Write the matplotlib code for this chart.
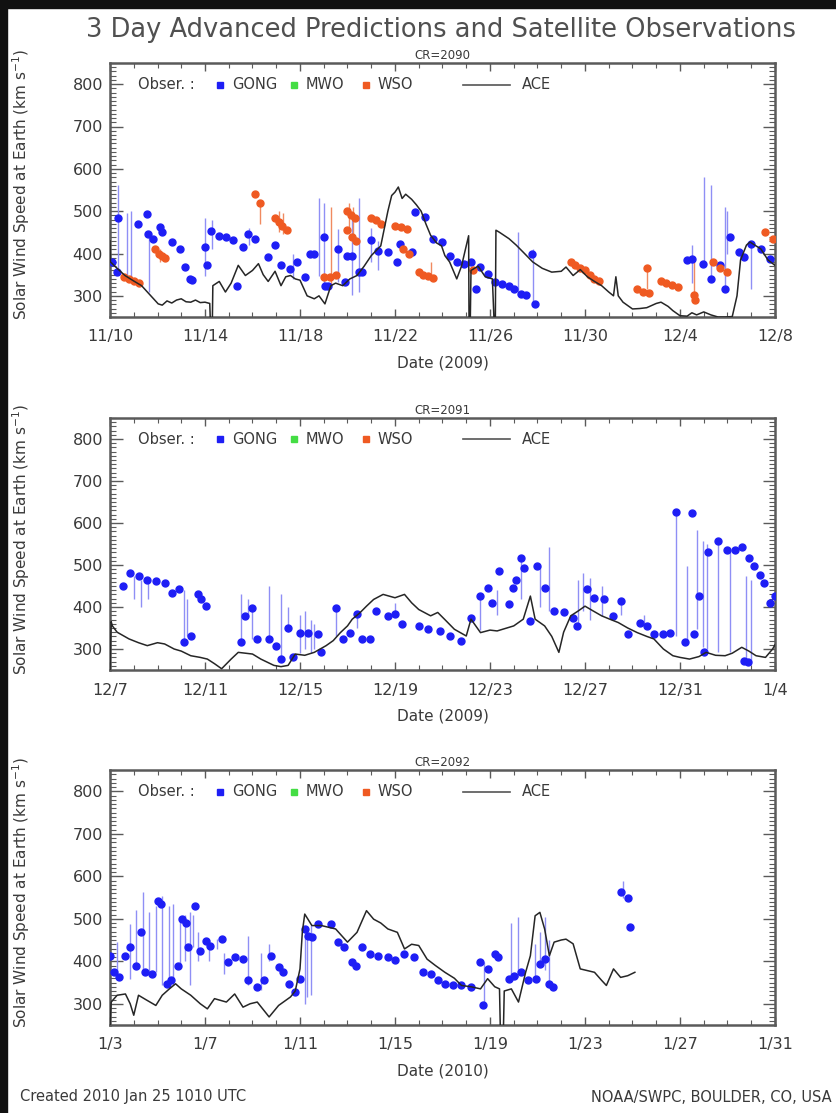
import matplotlib
matplotlib.use("Agg")
import matplotlib.pyplot as plt
from matplotlib.patches import Rectangle
import numpy as np

# ---------------- DATA ----------------
# Panel 1 : CR=2090, 2009-11-10 .. 2009-12-08 (days since start)
p1_ticklabels = ["11/10", "11/14", "11/18", "11/22", "11/26", "11/30", "12/4", "12/8"]
p1_xlabel = "Date (2009)"
p1_cr = "CR=2090"
p1_ace_day = [0.0, 0.02, 0.3, 0.63, 1.0, 1.33, 1.72, 2.03, 2.2, 2.4, 2.6, 2.8, 3.0, 3.2, 3.4, 3.6, 3.8, 4.0,
              4.2, 4.25, 4.3, 4.33, 4.6, 4.86, 5.1, 5.4, 5.7, 6.0, 6.25, 6.45, 6.66, 6.95, 7.2, 7.4, 7.6, 7.8,
              8.0, 8.3, 8.6, 8.8, 9.05, 9.3, 9.5, 9.8, 10.1, 10.4, 10.7, 11.0, 11.4, 11.7, 11.86, 12.0, 12.14,
              12.3, 12.45, 12.7, 12.9, 13.1, 13.3, 13.5, 13.75, 13.96, 14.1, 14.3, 14.6, 14.8, 14.97, 15.1,
              15.12, 15.16, 15.2, 15.5, 15.8, 16.1, 16.2, 16.22, 16.25, 16.4, 16.8, 17.1, 17.4, 17.8, 18.2,
              18.6, 19.0, 19.2, 19.5, 19.8, 20.1, 20.4, 20.7, 21.0, 21.2, 21.3, 21.4, 21.6, 22.0, 22.3, 22.6,
              23.0, 23.2, 23.5, 23.7, 24.0, 24.3, 24.5, 24.7, 25.0, 25.3, 25.6, 25.9, 26.2, 26.4, 26.55,
              26.8, 26.95, 27.2, 27.4, 27.7, 28.0]
p1_ace_speed = [430, 380, 365, 348, 335, 324, 300, 281, 278, 288, 283, 290, 293, 286, 285, 290, 284, 285,
                282, 200, 200, 324, 334, 309, 330, 372, 348, 360, 376, 350, 334, 358, 324, 345, 348, 340,
                337, 300, 293, 300, 281, 324, 330, 324, 340, 348, 370, 395, 418, 500, 537, 545, 557,
                530, 540, 528, 515, 500, 470, 443, 425, 418, 395, 380, 340, 370, 411, 442,
                200, 200, 360, 370, 345, 340, 200, 200, 455, 450, 435, 420, 403, 380, 365,
                356, 358, 368, 348, 362, 345, 334, 324, 309, 300, 345, 300, 285, 269, 270, 272,
                282, 285, 275, 265, 253, 252, 260, 255, 262, 255, 250, 250, 251, 300, 385,
                420, 427, 418, 411, 385, 372]
p1_gong_day = [0.07, 0.28, 0.35, 1.19, 1.54, 1.61, 1.8, 2.1, 2.17, 2.6, 2.95, 3.16, 3.37, 3.45, 4.0, 4.07,
               4.25, 4.6, 4.9, 5.2, 5.33, 5.6, 5.82, 6.1, 6.66, 6.95, 7.2, 7.6, 7.86, 8.2, 8.42, 8.6,
               9.0, 9.05, 9.2, 9.6, 9.9, 9.97, 10.2, 10.5, 10.6, 11.0, 11.3, 11.7, 12.1, 12.2, 12.7,
               12.84, 13.26, 13.6, 14.0, 14.3, 14.6, 14.9, 15.2, 15.4, 15.57, 15.9, 16.2, 16.5, 16.8,
               17.0, 17.3, 17.5, 17.75, 17.9, 24.3, 24.5, 24.98, 25.3, 25.7, 25.9, 26.1, 26.5, 26.7,
               27.0, 27.4, 27.8]
p1_gong_speed = [380, 357, 483, 470, 494, 446, 435, 463, 450, 427, 411, 368, 340, 338, 415, 372,
                 454, 442, 438, 431, 324, 415, 446, 435, 391, 419, 372, 364, 380, 344, 399, 399,
                 438, 324, 324, 411, 332, 395, 395, 356, 356, 431, 407, 403, 380, 423, 403,
                 497, 486, 435, 427, 395, 380, 376, 380, 317, 368, 352, 332, 328, 324,
                 317, 305, 301, 399, 281, 384, 387, 376, 340, 372, 317, 438, 403, 391,
                 423, 411, 387]
p1_gong_line_day = [0.35, 0.7, 0.9, 1.65, 4.0, 4.3, 5.85, 7.7, 8.8, 9.0, 9.6, 10.2, 10.5, 11.0, 11.3,
                    17.2, 17.8, 24.5, 25.0, 25.3, 25.9, 26.0, 27.0]
p1_gong_line_lo = [357, 340, 335, 310, 348, 411, 420, 340, 348, 330, 332, 301, 310, 380, 360,
                   301, 285, 330, 372, 340, 317, 400, 317]
p1_gong_line_hi = [561, 495, 500, 450, 483, 478, 460, 400, 530, 520, 458, 483, 530, 460, 430,
                   450, 411, 420, 580, 561, 510, 500, 423]
p1_wso_day = [0.6, 0.8, 1.0, 1.2, 1.9, 2.05, 2.2, 2.3, 6.1, 6.3, 6.95, 7.1, 7.25, 7.45, 9.0, 9.25, 9.5,
              9.97, 10.15, 10.3, 10.0, 10.2, 10.35, 11.0, 11.2, 11.4, 12.0, 12.25, 12.5, 12.35, 12.6,
              13.0, 13.2, 13.4, 13.6, 15.3, 19.4, 19.6, 19.8, 20.0, 20.2, 20.4, 20.6, 22.2, 22.45,
              22.7, 22.6, 23.2, 23.4, 23.65, 23.9, 24.6, 24.65, 25.4, 25.7, 26.0, 27.6, 27.9]
p1_wso_speed = [345, 340, 335, 330, 410, 400, 395, 390, 541, 519, 485, 475, 465, 455, 345, 345, 350,
                500, 490, 485, 455, 440, 430, 483, 478, 470, 466, 463, 457, 411, 400,
                357, 350, 346, 343, 360, 380, 372, 366, 360, 350, 340, 335, 315, 310,
                307, 365, 335, 330, 325, 320, 301, 290, 380, 365, 356, 450, 435]
p1_wso_line_day = [2.1, 6.3, 7.1, 7.3, 9.3, 10.05, 10.25, 13.5, 22.6, 24.6]
p1_wso_line_lo = [380, 470, 450, 445, 324, 455, 430, 340, 315, 300]
p1_wso_line_hi = [410, 519, 500, 495, 511, 520, 510, 380, 365, 385]

# Panel 2 : CR=2091, 2009-12-07 .. 2010-01-04
p2_ticklabels = ["12/7", "12/11", "12/15", "12/19", "12/23", "12/27", "12/31", "1/4"]
p2_xlabel = "Date (2009)"
p2_cr = "CR=2091"
p2_ace_day = [0.0, 0.05, 0.1, 0.3, 0.8, 1.2, 1.57, 2.0, 2.3, 2.7, 3.0, 3.4, 3.8, 4.1, 4.4, 4.7, 5.1, 5.4,
              5.7, 6.0, 6.35, 6.9, 7.2, 7.5, 7.8, 8.2, 8.6, 9.1, 9.4, 9.7, 10.0, 10.2, 10.5, 10.8, 11.1,
              11.5, 12.0, 12.4, 12.7, 13.0, 13.5, 13.8, 14.1, 14.5, 15.0, 15.2, 15.6, 16.0, 16.3, 17.0,
              17.4, 17.7, 17.9, 18.3, 18.6, 18.9, 19.1, 19.4, 19.7, 20.0, 20.3, 20.7, 21.0, 21.4, 21.8,
              22.2, 22.6, 22.9, 23.3, 23.7, 24.0, 24.4, 24.8, 25.1, 25.5, 25.9, 26.2, 26.6, 26.9, 27.2,
              27.6, 27.9, 28.0]
p2_ace_speed = [250, 365, 355, 340, 324, 315, 308, 315, 312, 300, 295, 284, 280, 276, 265, 253, 276, 292,
                290, 288, 276, 261, 258, 261, 288, 285, 292, 308, 320, 339, 355, 371, 385, 402, 418,
                430, 422, 430, 410, 394, 379, 387, 370, 347, 331, 371, 339, 345, 343, 355,
                371, 426, 371, 355, 330, 292, 340, 379, 390, 402, 392, 379, 372, 363, 350,
                339, 330, 324, 300, 284, 280, 276, 282, 292, 285, 284, 290, 304, 295, 284,
                280, 300, 310]
p2_gong_day = [0.55, 0.83, 1.2, 1.57, 1.95, 2.3, 2.6, 2.9, 3.1, 3.4, 3.7, 3.85, 4.05, 5.5, 5.7, 6.0, 6.2,
               6.7, 7.0, 7.2, 7.5, 7.7, 8.0, 8.35, 8.75, 8.9, 9.5, 9.8, 10.1, 10.4, 10.6, 10.95, 11.2,
               11.7, 12.0, 12.3, 13.0, 13.4, 13.9, 14.3, 14.8, 15.2, 15.6, 15.9, 16.1, 16.4, 16.8,
               16.95, 17.1, 17.3, 17.45, 17.7, 18.0, 18.3, 18.7, 19.1, 19.5, 19.65, 20.1, 20.4, 20.8,
               21.2, 21.5, 21.8, 22.3, 22.6, 22.9, 23.3, 23.6, 23.85, 24.2, 24.5, 24.6, 24.8, 25.0,
               25.2, 25.6, 25.97, 26.3, 26.6, 26.9, 27.1, 27.35, 27.55, 26.7, 26.85, 27.8, 28.0]
p2_gong_speed = [450, 481, 473, 465, 461, 457, 434, 442, 316, 331, 430, 418, 402, 316, 379, 398, 324,
                 324, 308, 276, 351, 280, 339, 339, 335, 292, 398, 324, 339, 383, 324, 324, 390,
                 379, 383, 359, 355, 347, 343, 331, 320, 375, 426, 446, 410, 485, 406,
                 446, 465, 517, 493, 367, 497, 446, 390, 387, 375, 355, 442, 422, 418,
                 379, 414, 335, 363, 355, 335, 335, 339, 627, 316, 623, 335, 426, 292,
                 532, 556, 536, 536, 544, 517, 497, 477, 457, 272, 268, 410, 426]
p2_gong_line_day = [1.0, 1.3, 1.6, 3.1, 3.25, 5.5, 5.8, 6.0, 6.7, 7.2, 7.5, 8.0, 8.2, 8.45, 8.6, 9.5,
                    10.4, 12.0, 15.6, 16.3, 17.3, 18.1, 18.5, 19.7, 19.9, 20.2, 20.7, 21.5, 22.5,
                    23.85, 24.3, 24.7, 24.95, 25.15, 25.6, 26.1, 26.8, 27.0]
p2_gong_line_lo = [420, 400, 420, 316, 331, 316, 379, 324, 324, 276, 340, 290, 300, 290, 300, 330,
                   350, 383, 345, 380, 420, 400, 390, 355, 390, 370, 379, 380, 355,
                   330, 316, 347, 304, 300, 292, 292, 272, 268]
p2_gong_line_hi = [473, 465, 461, 440, 420, 430, 420, 405, 450, 430, 400, 380, 390, 370, 360, 398,
                   383, 410, 426, 440, 517, 497, 544, 465, 480, 470, 450, 414, 380,
                   627, 497, 583, 556, 550, 556, 536, 473, 465]

# Panel 3 : CR=2092, 2010-01-03 .. 2010-01-31
p3_ticklabels = ["1/3", "1/7", "1/11", "1/15", "1/19", "1/23", "1/27", "1/31"]
p3_xlabel = "Date (2010)"
p3_cr = "CR=2092"
p3_ace_day = [0.0, 0.05, 0.3, 0.65, 0.85, 1.0, 1.2, 1.5, 1.93, 2.2, 2.5, 2.76, 3.0, 3.4, 3.8, 4.1, 4.4,
              4.9, 5.25, 5.6, 5.9, 6.2, 6.7, 7.1, 7.6, 7.8, 8.0, 8.1, 8.2, 8.5, 8.9, 9.2, 9.5, 10.0,
              10.4, 10.8, 11.1, 11.4, 11.7, 12.1, 12.4, 12.7, 13.0, 13.35, 13.7, 14.1, 14.5, 14.8,
              15.2, 15.6, 15.9, 16.2, 16.4, 16.45, 16.55, 16.6, 16.9, 17.2, 17.5, 17.7, 17.9, 18.1,
              18.3, 18.5, 18.7, 19.0, 19.2, 19.5, 19.8, 20.1, 20.4, 20.7, 20.9, 21.2, 21.5, 21.8, 22.1]
p3_ace_speed = [250, 304, 320, 323, 300, 273, 320, 310, 296, 320, 335, 347, 335, 320, 300, 288, 312,
                304, 323, 292, 300, 304, 269, 296, 316, 330, 382, 470, 511, 484, 484, 480, 476, 445,
                468, 519, 499, 490, 476, 468, 429, 440, 437, 405, 390, 374, 360, 343,
                340, 335, 359, 340, 335, 200, 200, 330, 335, 304, 374, 413, 507, 515,
                476, 413, 445, 450, 452, 441, 382, 378, 374, 355, 343, 382, 362, 366, 374]
p3_gong_day = [0.0, 0.18, 0.37, 0.65, 0.83, 1.1, 1.3, 1.47, 1.75, 2.0, 2.15, 2.4, 2.55, 2.85, 3.04,
               3.2, 3.3, 3.6, 3.8, 4.05, 4.2, 4.7, 4.97, 5.25, 5.6, 5.8, 6.2, 6.5, 6.8, 7.1, 7.3,
               7.55, 7.8, 8.0, 8.2, 8.35, 8.5, 8.75, 9.3, 9.6, 9.85, 10.2, 10.35, 10.6, 10.95, 11.3,
               11.7, 12.0, 12.4, 12.8, 13.2, 13.5, 13.8, 14.1, 14.45, 14.8, 15.2, 15.56, 15.7, 15.9,
               16.2, 16.35, 16.8, 17.0, 17.3, 17.6, 17.95, 18.1, 18.3, 18.5, 18.65, 21.5, 21.8, 21.9]
p3_gong_speed = [413, 374, 363, 413, 433, 390, 468, 374, 370, 542, 534, 347, 355, 390, 499,
                 491, 433, 530, 425, 448, 437, 452, 398, 409, 405, 355, 339, 355, 413, 386, 374,
                 347, 327, 359, 476, 460, 456, 488, 488, 445, 433, 398, 390, 433, 417, 413,
                 409, 402, 417, 409, 374, 370, 355, 347, 343, 343, 339, 398, 296, 382,
                 417, 409, 359, 366, 374, 355, 359, 394, 405, 347, 339, 562, 550, 480]
p3_gong_line_day = [0.28, 0.83, 1.1, 1.38, 1.65, 1.93, 2.2, 2.5, 2.67, 2.95, 3.15, 3.35, 3.5, 3.7,
                    4.15, 4.5, 4.8, 5.8, 6.35, 6.7, 8.2, 8.3, 8.45, 15.75, 16.9, 17.2, 17.9, 18.1,
                    18.3, 18.5, 21.6]
p3_gong_line_lo = [359, 359, 390, 374, 366, 374, 343, 343, 343, 390, 400, 343, 433, 400,
                   400, 430, 370, 343, 332, 400, 300, 316, 320, 296, 359, 362, 366, 394,
                   380, 339, 550]
p3_gong_line_hi = [445, 488, 520, 562, 515, 530, 554, 530, 534, 499, 510, 515, 510, 470,
                   450, 452, 420, 460, 420, 440, 476, 484, 486, 398, 491, 503, 440, 470,
                   503, 450, 590]

# ---------------- STYLE ----------------
GONG_C = "#1e1ef5"
GONG_LINE_C = "#8f8ff5"
WSO_C = "#ef5a22"
WSO_LINE_C = "#f08a60"
MWO_C = "#44dd44"
ACE_C = "#262626"
TXT_C = "#3a3a3a"
FRAME_C = "#5a5a5a"

plt.rcParams["font.family"] = ["DejaVu Sans"]

W, H = 836, 1113
fig = plt.figure(figsize=(W / 100, H / 100), dpi=100)
fig.patch.set_facecolor("white")

panels = [
    (63, 317, p1_ticklabels, p1_xlabel, p1_cr, p1_ace_day, p1_ace_speed, p1_gong_day, p1_gong_speed,
     p1_gong_line_day, p1_gong_line_lo, p1_gong_line_hi, p1_wso_day, p1_wso_speed,
     p1_wso_line_day, p1_wso_line_lo, p1_wso_line_hi),
    (418, 670, p2_ticklabels, p2_xlabel, p2_cr, p2_ace_day, p2_ace_speed, p2_gong_day, p2_gong_speed,
     p2_gong_line_day, p2_gong_line_lo, p2_gong_line_hi, [], [], [], [], []),
    (770, 1025, p3_ticklabels, p3_xlabel, p3_cr, p3_ace_day, p3_ace_speed, p3_gong_day, p3_gong_speed,
     p3_gong_line_day, p3_gong_line_lo, p3_gong_line_hi, [], [], [], [], []),
]

left_px, right_px = 110, 775
for (top, bot, tlabels, xlabel, cr, aced, aces, gd, gs, gld, gll, glh, wd, ws, wld, wll, wlh) in panels:
    ax = fig.add_axes([left_px / W, 1 - bot / H, (right_px - left_px) / W, (bot - top) / H])
    ax.set_xlim(0, 28)
    ax.set_ylim(250, 850)

    # vertical spread lines
    ax.vlines(gld, gll, glh, color=GONG_LINE_C, lw=1.0, zorder=2)
    if len(wld):
        ax.vlines(wld, wll, wlh, color=WSO_LINE_C, lw=1.0, zorder=2)
    # ACE observations
    ax.plot(aced, aces, color=ACE_C, lw=1.1, zorder=4)
    # predictions
    ax.plot(gd, gs, linestyle="none", marker="o", ms=5.0, mfc=GONG_C, mec=GONG_C, zorder=3)
    if len(wd):
        ax.plot(wd, ws, linestyle="none", marker="o", ms=5.0, mfc=WSO_C, mec=WSO_C, zorder=3)

    # ticks
    ax.set_xticks(np.arange(0, 29, 4))
    ax.set_xticklabels(tlabels)
    ax.set_xticks(np.arange(0, 29, 1), minor=True)
    ax.set_yticks(np.arange(300, 801, 100))
    ax.set_yticks(np.arange(250, 851, 10), minor=True)
    ax.tick_params(axis="both", which="both", direction="in", top=True, right=True,
                   color=FRAME_C, labelcolor=TXT_C)
    ax.tick_params(axis="y", which="major", length=9, width=1.0, labelsize=11.5, pad=5)
    ax.tick_params(axis="y", which="minor", length=4, width=0.8)
    ax.tick_params(axis="x", which="major", length=6, width=1.0, labelsize=11.5, pad=9)
    ax.tick_params(axis="x", which="minor", length=3.5, width=0.8)
    for s in ax.spines.values():
        s.set_color(FRAME_C)
        s.set_linewidth(1.8)

    ax.set_xlabel(xlabel, fontsize=11, color=TXT_C, labelpad=8)
    ax.set_ylabel("Solar Wind Speed at Earth (km s$^{-1}$)", fontsize=11, color=TXT_C)
    ax.yaxis.set_label_coords(-0.118, 0.52)
    ax.text(0.5, 1.005, cr, transform=ax.transAxes, ha="center", va="bottom", fontsize=8.5, color=TXT_C)

    # in-plot legend
    ly = 0.915
    ax.text(0.042, ly, "Obser. :", transform=ax.transAxes, va="center", ha="left", fontsize=10.5, color=TXT_C)
    ax.plot([0.166], [ly], transform=ax.transAxes, marker="s", ms=4, color=GONG_C, ls="none")
    ax.text(0.184, ly, "GONG", transform=ax.transAxes, va="center", ha="left", fontsize=10.5, color=TXT_C)
    ax.plot([0.276], [ly], transform=ax.transAxes, marker="s", ms=4, color=MWO_C, ls="none")
    ax.text(0.294, ly, "MWO", transform=ax.transAxes, va="center", ha="left", fontsize=10.5, color=TXT_C)
    ax.plot([0.385], [ly], transform=ax.transAxes, marker="s", ms=4, color=WSO_C, ls="none")
    ax.text(0.403, ly, "WSO", transform=ax.transAxes, va="center", ha="left", fontsize=10.5, color=TXT_C)
    ax.plot([0.531, 0.602], [ly, ly], transform=ax.transAxes, color="#555555", lw=1.2)
    ax.text(0.620, ly, "ACE", transform=ax.transAxes, va="center", ha="left", fontsize=10.5, color=TXT_C)

fig.text(441 / W, 1 - 30 / H, "3 Day Advanced Predictions and Satellite Observations",
         ha="center", va="center", fontsize=18.5, color="#505050")
fig.text(20 / W, 1 - 1097 / H, "Created 2010 Jan 25 1010 UTC", ha="left", va="center",
         fontsize=10.5, color=TXT_C)
fig.text(832 / W, 1 - 1097 / H, "NOAA/SWPC, BOULDER, CO, USA", ha="right", va="center",
         fontsize=10.5, color=TXT_C)

# dark frame of the screenshot
fig.patches.append(Rectangle((0, 0), 7 / W, 1, transform=fig.transFigure, color="#111111", zorder=0))
fig.patches.append(Rectangle((0, 1 - 8 / H), 1, 8 / H, transform=fig.transFigure, color="#111111", zorder=0))

fig.savefig("out.png", dpi=100, facecolor="white")
